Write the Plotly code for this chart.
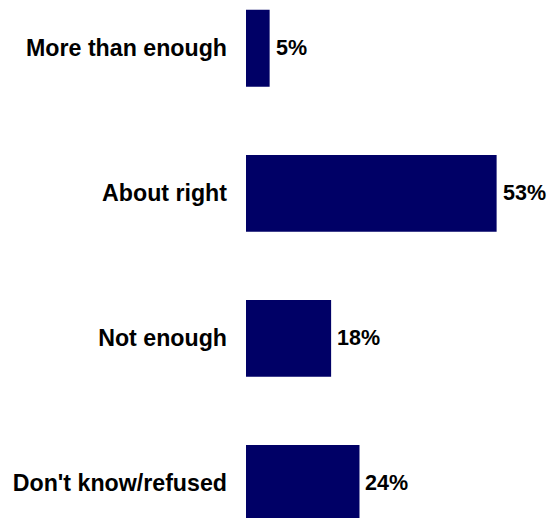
import plotly.graph_objects as go

categories = ["More than enough", "About right", "Not enough", "Don't know/refused"]
values = [5, 53, 18, 24]
value_labels = [f"{v}%" for v in values]

FONT = "Liberation Sans, Arial, sans-serif"

fig = go.Figure(
    go.Bar(
        x=values,
        y=categories,
        orientation="h",
        width=0.53,
        marker=dict(color="#000066", line=dict(width=0)),
        hoverinfo="x+y",
    )
)

# percentage labels just right of each bar end
for cat, v, lab in zip(categories, values, value_labels):
    fig.add_annotation(
        x=v,
        y=cat,
        text=f"<b>{lab}</b>",
        showarrow=False,
        xanchor="left",
        yanchor="middle",
        xshift=4,
        font=dict(family=FONT, size=21.5, color="#000000"),
    )

fig.update_layout(
    width=551,
    height=518,
    margin=dict(l=246, r=0, t=0, b=0),
    paper_bgcolor="white",
    plot_bgcolor="white",
    showlegend=False,
    font=dict(family=FONT, size=22, color="#000000"),
)

fig.update_xaxes(range=[0, 64.5], visible=False, showgrid=False, zeroline=False)
fig.update_yaxes(
    range=[3.239, -0.333],
    showgrid=False,
    zeroline=False,
    showline=False,
    ticks="",
    ticklabelstandoff=18,
    tickfont=dict(family=FONT, size=23.2, color="#000000", weight="bold"),
)

fig.write_html("out.html")
